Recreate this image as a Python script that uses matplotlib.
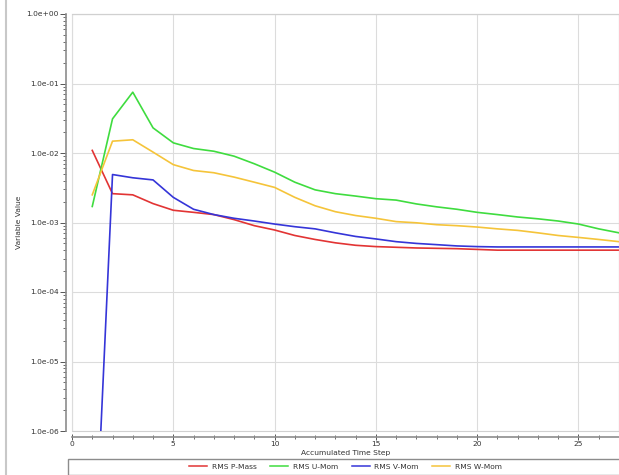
import matplotlib
matplotlib.use("Agg")
import matplotlib.pyplot as plt
from matplotlib.ticker import FixedLocator, FuncFormatter, LogLocator, NullFormatter
from matplotlib.lines import Line2D
from matplotlib.patches import Rectangle

# ---- data ----
steps = list(range(1, 28))
p_mass = [1.09e-2, 2.6e-3, 2.5e-3, 1.87e-3, 1.5e-3, 1.4e-3, 1.3e-3, 1.1e-3, 9.0e-4,
          7.8e-4, 6.5e-4, 5.7e-4, 5.1e-4, 4.7e-4, 4.5e-4, 4.4e-4, 4.3e-4, 4.25e-4,
          4.2e-4, 4.1e-4, 4.0e-4, 4.0e-4, 4.0e-4, 4.0e-4, 4.0e-4, 4.0e-4, 4.0e-4]
u_mom = [1.7e-3, 3.1e-2, 7.5e-2, 2.3e-2, 1.4e-2, 1.16e-2, 1.06e-2, 9.0e-3, 7.0e-3,
         5.3e-3, 3.8e-3, 2.95e-3, 2.6e-3, 2.4e-3, 2.2e-3, 2.1e-3, 1.85e-3, 1.68e-3,
         1.55e-3, 1.4e-3, 1.3e-3, 1.2e-3, 1.13e-3, 1.05e-3, 9.5e-4, 8.1e-4, 7.1e-4]
v_mom = [2e-9, 4.9e-3, 4.4e-3, 4.1e-3, 2.3e-3, 1.55e-3, 1.3e-3, 1.15e-3, 1.05e-3,
         9.5e-4, 8.7e-4, 8.1e-4, 7.1e-4, 6.3e-4, 5.8e-4, 5.3e-4, 5.0e-4, 4.8e-4,
         4.6e-4, 4.5e-4, 4.45e-4, 4.45e-4, 4.45e-4, 4.45e-4, 4.45e-4, 4.45e-4, 4.45e-4]
w_mom = [2.5e-3, 1.48e-2, 1.55e-2, 1.03e-2, 6.8e-3, 5.6e-3, 5.2e-3, 4.5e-3, 3.8e-3,
         3.2e-3, 2.3e-3, 1.74e-3, 1.43e-3, 1.26e-3, 1.15e-3, 1.03e-3, 9.9e-4, 9.3e-4,
         9.0e-4, 8.6e-4, 8.1e-4, 7.7e-4, 7.1e-4, 6.5e-4, 6.1e-4, 5.7e-4, 5.3e-4]
series_names = ["RMS P-Mass", "RMS U-Mom", "RMS V-Mom", "RMS W-Mom"]
series_colors = ["#e23434", "#3fdc3f", "#3535d8", "#f5c43a"]
x_ticks = [0, 5, 10, 15, 20, 25]
y_ticks = [1e-6, 1e-5, 1e-4, 1e-3, 1e-2, 1e-1, 1e0]
x_label = "Accumulated Time Step"
y_label = "Variable Value"

plt.rcParams['font.family'] = ['DejaVu Sans']
FS = 5.4
W, H = 619, 475
fig = plt.figure(figsize=(W / 100, H / 100), dpi=100)
fig.patch.set_facecolor("white")

ax = fig.add_axes([72 / W, (H - 431) / H, (W - 72) / W, (431 - 14) / H])
for vals, name, col in zip([p_mass, u_mom, v_mom, w_mom], series_names, series_colors):
    ax.plot(steps, vals, color=col, lw=1.2, label=name, solid_joinstyle="round")

ax.set_yscale("log")
ax.set_ylim(1e-6, 1.0)
ax.set_xlim(0, 27)

ax.xaxis.set_major_locator(FixedLocator(x_ticks))
ax.xaxis.set_minor_locator(FixedLocator(range(0, 28)))
ax.yaxis.set_major_locator(FixedLocator(y_ticks))
ax.yaxis.set_minor_locator(LogLocator(base=10, subs=range(2, 10)))
ax.yaxis.set_minor_formatter(NullFormatter())
ax.yaxis.set_major_formatter(FuncFormatter(lambda v, p: "%.1e" % v))

ax.grid(True, which="major", color="#dcdcdc", lw=0.8)
ax.set_axisbelow(True)

for s in ["top", "right"]:
    ax.spines[s].set_color("#d0d0d0")
    ax.spines[s].set_linewidth(0.8)
for s in ["left", "bottom"]:
    ax.spines[s].set_position(("outward", 4))
    ax.spines[s].set_color("#8c8c8c")
    ax.spines[s].set_linewidth(1.2)
ax.add_patch(Rectangle((0, 0), 1, 1, transform=ax.transAxes, fill=False,
                       edgecolor="#d0d0d0", lw=0.8, clip_on=False, zorder=0.5))

ax.tick_params(axis="both", which="major", labelsize=FS, color="#555555",
               length=4, width=0.7, labelcolor="#333333")
ax.tick_params(axis="both", which="minor", color="#555555", length=2.5, width=0.6)
ax.tick_params(axis="x", which="both", direction="inout", pad=1)
ax.tick_params(axis="y", which="both", direction="out", pad=1.5)

ax.set_xlabel(x_label, fontsize=FS, color="#333333", labelpad=2.5)
ax.set_ylabel(y_label, fontsize=FS, color="#333333")
ax.yaxis.set_label_coords(-50 / (W - 72), 0.5)

# legend box
fig.patches.append(Rectangle((68 / W, 0.5 / H), (W - 67) / W, 16 / H,
                             transform=fig.transFigure, fill=False,
                             edgecolor="#8c8c8c", lw=1.0))
handles = [Line2D([0], [0], color=c, lw=1.1) for c in series_colors]
fig.legend(handles, series_names, loc="center", bbox_to_anchor=(345.5 / W, 1 - 466.5 / H),
           ncol=4, frameon=False, fontsize=FS, handlelength=2.4, columnspacing=1.8,
           handletextpad=0.6, labelcolor="#333333")

# outer frame line at left
fig.add_artist(Line2D([6 / W, 6 / W], [0, 1], transform=fig.transFigure,
                      color="#c8c8c8", lw=1.5))

fig.savefig("out.png", dpi=100)
